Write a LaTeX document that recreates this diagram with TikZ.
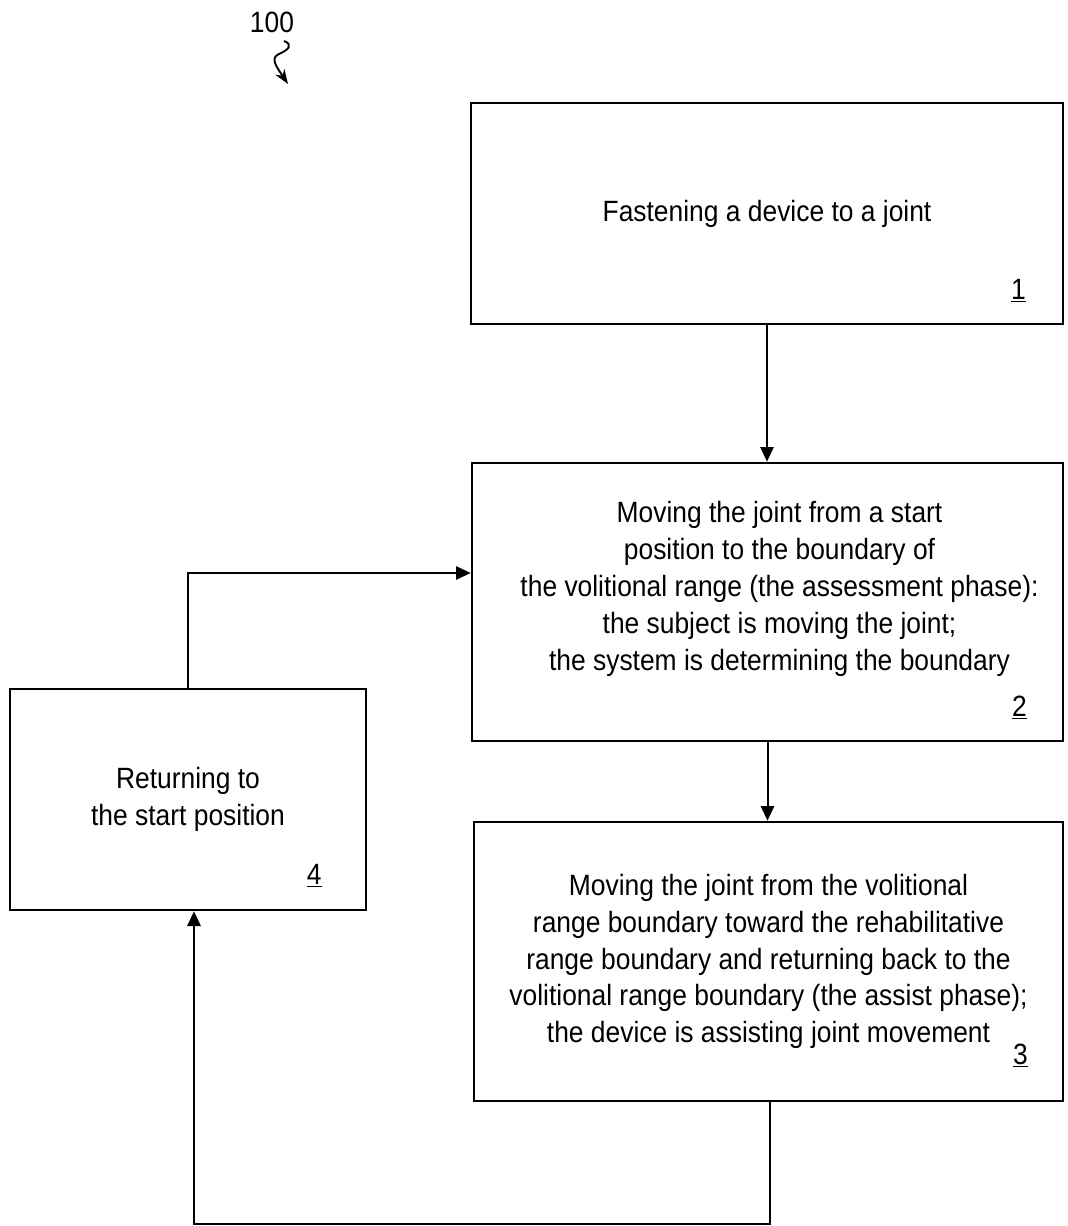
\documentclass[tikz,border=0pt]{standalone}
\usepackage{fontspec}
\setmainfont{Liberation Sans}[FakeStretch=0.9]
\usetikzlibrary{arrows.meta, positioning, calc}

\begin{document}
\begin{tikzpicture}[
    x=0.75pt, y=-0.75pt, % pixel grid of the sheet, y going down
    >={Triangle[length=11pt, width=10pt]}, % filled flow arrows
    box/.style={draw, line width=2pt, inner sep=0pt, align=center,
                font=\fontsize{22}{27.6}\selectfont}, % step boxes
    txt/.style={align=center, font=\fontsize{22}{27.6}\selectfont}, % step text
    num/.style={font=\fontsize{22}{27.6}\selectfont}, % step numbers
    arr/.style={line width=1.5pt, ->}, % flow connectors
    refarr/.style={line width=1.4pt, -{Stealth[length=11pt, width=8pt]}} % reference arrow
]
    % 1. page size
    \useasboundingbox (0,0) rectangle (1067,1226);

    % 2. reference numeral
    \node[num] (ref) at (272,22) {100};
    \coordinate (refstart) at (284,41);
    \coordinate (refend) at (288,84);
    \draw[refarr] (refstart) .. controls (294,45) and (288,50) .. (279,54)
        .. controls (270,58) and (276,66) .. (refend);

    % 3. step boxes
    \node[box, minimum width=444pt, minimum height=165.75pt] (step1) at (767,213.5)
        {Fastening a device to a joint};
    \node[box, minimum width=443.25pt, minimum height=208.5pt] (step2) at (767.5,602) {};
    \node[txt] (text2) at ([shift={(12,-13)}]step2.center)
        {Moving the joint from a start\\
         position to the boundary of\\
         the volitional range (the assessment phase):\\
         the subject is moving the joint;\\
         the system is determining the boundary};
    \node[box, minimum width=441.75pt, minimum height=209.25pt] (step3) at (768.5,961.5)
        {Moving the joint from the volitional\\
         range boundary toward the rehabilitative\\
         range boundary and returning back to the\\
         volitional range boundary (the assist phase);\\
         the device is assisting joint movement};
    \node[box, minimum width=267pt, minimum height=165.75pt] (step4) at (188,799.5)
        {Returning to\\the start position};

    % 4. step numbers
    \node[num, anchor=base] (lab1) at ([shift={(-46,-26)}]step1.south east) {\underline{1}};
    \node[num, anchor=base] (lab2) at ([shift={(-45,-26)}]step2.south east) {\underline{2}};
    \node[num, anchor=base] (lab3) at ([shift={(-44,-38)}]step3.south east) {\underline{3}};
    \node[num, anchor=base] (lab4) at ([shift={(-53,-27)}]step4.south east) {\underline{4}};

    % 5. connectors
    \draw[arr] (step1.south) -- (step1.south |- step2.north);
    \draw[arr] (step2.south) -- (step2.south |- step3.north);
    \draw[arr] (step4.north) |- ([shift={(0,-29)}]step2.west);
    \coordinate (loopturn) at (770,1224);
    \draw[arr] (step3.south -| loopturn) -- (loopturn) -| ([shift={(6,0)}]step4.south);
\end{tikzpicture}
\end{document}
